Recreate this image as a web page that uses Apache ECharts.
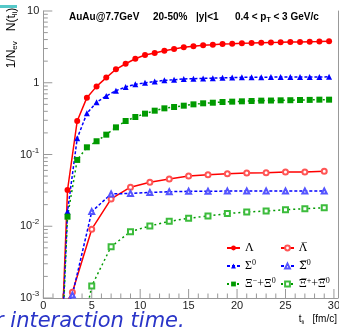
<!DOCTYPE html>
<html><head><meta charset="utf-8">
<script src="https://cdn.jsdelivr.net/npm/echarts@6/dist/echarts.min.js"></script>
<style>html,body{margin:0;padding:0;background:#fff}#c{width:339px;height:327px}</style>
</head><body><div id="c"></div>
<script>
// particle time points (fm/c)
const tPart = [1.5,2.5,3.5,4.5,5.5,6.5,7.5,8.5,9.5,10.5,11.5,12.5,13.5,14.5,15.5,16.5,17.5,18.5,19.5,20.5,21.5,22.5,23.5,24.5,25.5,26.5,27.5,28.5,29.5];
const lambda = [1e-5,0.032,0.293,0.62,0.89,1.18,1.54,1.84,2.16,2.44,2.60,2.80,2.95,3.12,3.22,3.32,3.39,3.47,3.50,3.55,3.58,3.62,3.64,3.66,3.70,3.71,3.73,3.75,3.78];
const sigma = [1.1e-5,0.016,0.168,0.375,0.534,0.654,0.775,0.873,0.95,1.0,1.04,1.08,1.10,1.13,1.14,1.15,1.16,1.17,1.18,1.19,1.19,1.19,1.20,1.20,1.20,1.20,1.20,1.20,1.21];
const xi = [1e-5,0.0136,0.084,0.126,0.153,0.189,0.239,0.293,0.333,0.371,0.408,0.44,0.459,0.479,0.50,0.517,0.527,0.539,0.545,0.551,0.557,0.563,0.565,0.569,0.571,0.575,0.577,0.581,0.581];
// antiparticle time points (fm/c)
const tAnti = [1,3,5,7,9,11,13,15,17,19,21,23,25,27,29];
const lambdaBar = [4e-4,0.0012,0.0091,0.024,0.035,0.041,0.0456,0.050,0.0523,0.054,0.0552,0.0557,0.057,0.057,0.0583];
const sigmaBar = [3e-4,0.0011,0.016,0.0282,0.0287,0.0296,0.0303,0.0307,0.0308,0.0309,0.031,0.031,0.031,0.031,0.031];
const xiBar = [1e-7,7e-5,0.00147,0.0052,0.0084,0.0101,0.0117,0.0129,0.0139,0.015,0.0158,0.0163,0.017,0.0176,0.0181];
// axes
const xMajor = [0,5,10,15,20,25,30];
const xMinor = [0,1,2,3,4,5,6,7,8,9,10,11,12,13,14,15,16,17,18,19,20,21,22,23,24,25,26,27,28,29,30];
const yDecades = [0.001,0.01,0.1,1,10];
const yMantissas = [1,2,3,4,5,6,7,8,9];
// series names (legend labels)
const names = ['Λ','Λbar','Σ0','Σbar0','Ξ-+Ξ0','Ξbar++Ξbar0'];
const legendRich = {
  'Λ':'Λ', 'Λbar':'{o|Λ\u0305}',
  'Σ0':'Σ{u|0}', 'Σbar0':'{o|Σ\u0305}{u|0}',
  'Ξ-+Ξ0':'Ξ{u|−}+Ξ{u|0}', 'Ξbar++Ξbar0':'{o|Ξ\u0305}{u|+}+{o|Ξ\u0305}{u|0}'
};

const xTickData = xMinor.map(t => [t, 0.001, xMajor.indexOf(t) >= 0 ? 1 : 0]);
const xLabelData = xMajor.map(t => [t, 0.001]);
const yTickData = [];
yDecades.forEach(d => { if (d < 10) yMantissas.forEach(m => yTickData.push([0, +(m*d).toPrecision(3), m === 1 ? 1 : 0])); });
yTickData.push([0, 10, 1]);

const sans = '"Liberation Sans", Arial, sans-serif';
const serif = '"Liberation Serif", "DejaVu Serif", serif';

function tickSeries(data, isX) {
  return {type:'custom', silent:true, data:data, z:1, clip:false,
    renderItem: function(params, api) {
      const p = api.coord([api.value(0), api.value(1)]);
      const len = api.value(2) ? 9 : 4.5;
      const shape = isX ? {x1:p[0], y1:p[1], x2:p[0], y2:p[1]-len} : {x1:p[0], y1:p[1], x2:p[0]+len, y2:p[1]};
      return {type:'line', shape:shape, style:{stroke:'#999', lineWidth:1}};
    }};
}
const xLabelSeries = {type:'custom', silent:true, data:xLabelData, z:1, clip:false,
  renderItem: function(params, api) {
    const p = api.coord([api.value(0), api.value(1)]);
    return {type:'text', x:p[0], y:p[1]+8, style:{text:String(api.value(0)), align:'center', verticalAlign:'middle',
      fontSize:11, fontFamily:sans, fill:'#222'}};
  }};
function pairs(xs, ys){ return xs.map((x,i)=>[x, ys[i]]); }

const RED='#ff0000', BLUE='#0000ff', GREEN='#009a00', LGREEN='#3cbc3c';
const legendText = {fontFamily:serif, fontSize:12, lineHeight:14, color:'#000',
  rich:{u:{fontFamily:serif, fontSize:8, color:'#000', padding:[0,0,7,0]},
        o:{fontFamily:'"DejaVu Serif", serif', fontSize:11, color:'#000'}}};

const chart = echarts.init(document.getElementById('c'), null, {renderer:'canvas'});
chart.setOption({
  animation:false,
  backgroundColor:'#fff',
  grid:{left:43.3, right:1.2, top:11, bottom:29},
  xAxis:{type:'value', min:0, max:30.4, interval:5,
    axisLine:{onZero:false, lineStyle:{color:'#999'}}, axisTick:{show:false}, splitLine:{show:false},
    axisLabel:{show:false}},
  yAxis:[{type:'log', logBase:10, min:0.001, max:10,
    axisLine:{show:true, lineStyle:{color:'#999'}}, axisTick:{show:false}, splitLine:{show:false}, minorTick:{show:false},
    axisLabel:{margin:4, color:'#222', fontSize:11, fontFamily:sans, showMinLabel:true,
      formatter: v => { if (v >= 10) return '10'; if (Math.abs(v-1) < 1e-9) return '1';
        const e = Math.round(Math.log10(v)); return '10{s|' + e + '}'; },
      rich:{s:{fontSize:8, fontFamily:sans, color:'#222', padding:[0,0,8,0]}}}},
    {type:'log', logBase:10, min:0.001, max:10, position:'right',
    axisLine:{show:true, lineStyle:{color:'#999'}}, axisTick:{show:false}, axisLabel:{show:false}, splitLine:{show:false}}],
  legend:[
    {orient:'vertical', left:221, top:236, itemWidth:13, itemHeight:6, itemGap:3.5,
     data:[names[0], names[2], names[4]], formatter: n => legendRich[n], textStyle:legendText},
    {orient:'vertical', left:275, top:236, itemWidth:13, itemHeight:6, itemGap:3.5,
     data:[names[1], names[3], names[5]], formatter: n => legendRich[n], textStyle:legendText}
  ],
  series:[
    tickSeries(xTickData, true),
    tickSeries(yTickData, false),
    xLabelSeries,
    {name:names[0], type:'line', data:pairs(tPart, lambda), symbol:'circle', symbolSize:6, clip:true, z:5,
     lineStyle:{color:RED, width:1.5}, itemStyle:{color:RED}},
    {name:names[1], type:'line', data:pairs(tAnti, lambdaBar), symbol:'emptyCircle', symbolSize:5, clip:true, z:4,
     lineStyle:{color:RED, width:1.5}, itemStyle:{color:'#ff5555', borderWidth:1}},
    {name:names[2], type:'line', data:pairs(tPart, sigma), symbol:'triangle', symbolSize:6, clip:true, z:5,
     lineStyle:{color:BLUE, width:1.5, type:[3,2]}, itemStyle:{color:BLUE}},
    {name:names[3], type:'line', data:pairs(tAnti, sigmaBar), symbol:'emptyTriangle', symbolSize:5, clip:true, z:4,
     lineStyle:{color:BLUE, width:1.5, type:[3,2]}, itemStyle:{color:'#5555ff', borderWidth:1}},
    {name:names[4], type:'line', data:pairs(tPart, xi), symbol:'rect', symbolSize:6, clip:true, z:5,
     lineStyle:{color:GREEN, width:1.5, type:[2,3]}, itemStyle:{color:GREEN}},
    {name:names[5], type:'line', data:pairs(tAnti, xiBar), symbol:'emptyRect', symbolSize:5, clip:true, z:4,
     lineStyle:{color:GREEN, width:1.5, type:[2,3]}, itemStyle:{color:LGREEN, borderWidth:1}}
  ],
  graphic:[
    {type:'rect', shape:{x:0, y:5, width:17, height:3}, style:{fill:'#55c8c8'}},
    {type:'text', x:69, y:17, style:{text:'AuAu@7.7GeV', fontSize:10, fontWeight:'bold', fontFamily:sans, fill:'#000', verticalAlign:'middle'}},
    {type:'text', x:153, y:17, style:{text:'20-50%', fontSize:10, fontWeight:'bold', fontFamily:sans, fill:'#000', verticalAlign:'middle'}},
    {type:'text', x:196, y:17, style:{text:'|y|<1', fontSize:10, fontWeight:'bold', fontFamily:sans, fill:'#000', verticalAlign:'middle'}},
    {type:'text', x:235, y:17, style:{text:'0.4 < p{s|T} < 3 GeV/c', fontSize:10, fontWeight:'bold', fontFamily:sans, fill:'#000', verticalAlign:'middle',
      rich:{s:{fontSize:7, fontWeight:'bold', fontFamily:sans, fill:'#000', padding:[6,0,0,0]}}}},
    {type:'text', x:12, y:38, rotation:Math.PI/2, style:{text:'1/N{s|ev}   N(t{s|li})', fontSize:12, fontFamily:sans, fill:'#000', align:'center', verticalAlign:'middle',
      rich:{s:{fontSize:8, fontFamily:sans, fill:'#000', padding:[6,0,0,0]}}}},
    {type:'text', x:337, y:319, style:{text:'t{s|li}   [fm/c]', fontSize:10, fontFamily:sans, fill:'#000', align:'right', verticalAlign:'middle',
      rich:{s:{fontSize:6, fontFamily:sans, fill:'#000', padding:[6,0,0,0]}}}},
    {type:'text', x:-5, y:322, style:{text:'r interaction time.', fontSize:21, fontStyle:'italic', fontFamily:'"DejaVu Sans", sans-serif', fill:'#2a35c8', verticalAlign:'middle'}}
  ]
});
</script></body></html>
